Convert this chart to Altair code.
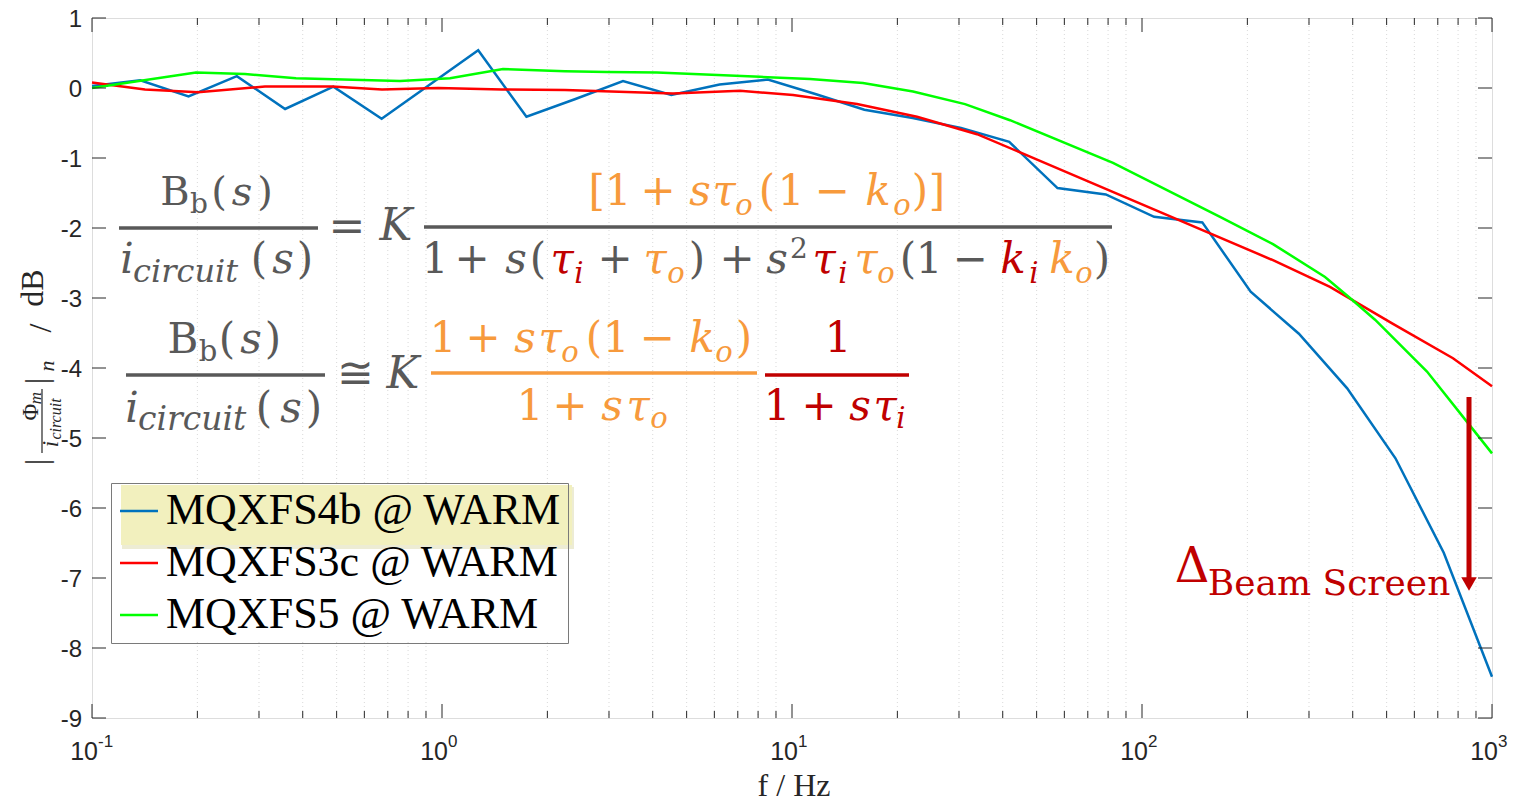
import altair as alt
import pandas as pd

# ---------------- data ----------------
SERIES = ["MQXFS4b @ WARM", "MQXFS3c @ WARM", "MQXFS5 @ WARM"]
COLORS = ["#0072BD", "#FF0000", "#00FF00"]

f_4b = [0.1, 0.1374, 0.1887, 0.2593, 0.3562, 0.4894, 0.6723, 0.9237, 1.269, 1.743,
        2.395, 3.290, 4.520, 6.210, 8.532, 11.72, 16.10, 22.12, 30.39, 41.75,
        57.36, 78.80, 108.3, 148.7, 204.4, 280.7, 385.7, 529.9, 728.0, 1000]
db_4b = [0.03, 0.11, -0.12, 0.17, -0.30, 0.02, -0.44, 0.05, 0.54, -0.41,
         -0.16, 0.10, -0.10, 0.05, 0.12, -0.09, -0.31, -0.43, -0.57, -0.77,
         -1.43, -1.52, -1.84, -1.92, -2.91, -3.51, -4.29, -5.29, -6.64, -8.41]

f_3c = [0.1, 0.1417, 0.2009, 0.3120, 0.4851, 0.6740, 0.9741, 1.484, 2.246, 4.571,
        7.101, 10.07, 15.34, 22.76, 33.78, 51.13, 236.7, 344.4, 521.3, 773.6, 1000]
db_3c = [0.08, -0.02, -0.06, 0.02, 0.02, -0.02, 0.00, -0.02, -0.03, -0.08,
         -0.04, -0.10, -0.23, -0.41, -0.66, -1.04, -2.46, -2.84, -3.37, -3.86, -4.26]

f_5 = [0.1, 0.1982, 0.2736, 0.3827, 0.7586, 1.054, 1.494, 2.246, 2.961, 4.115,
       8.10, 11.26, 15.95, 22.17, 31.21, 41.97, 82.63, 167.1, 236.7, 333.4,
       392.9, 463.2, 652.0, 848.4, 1000]
db_5 = [0.00, 0.22, 0.20, 0.14, 0.10, 0.14, 0.27, 0.24, 0.23, 0.22,
        0.16, 0.13, 0.07, -0.05, -0.23, -0.46, -1.07, -1.84, -2.23, -2.70,
        -3.00, -3.31, -4.05, -4.77, -5.22]

x_major = [0.1, 1, 10, 100, 1000]
x_exp = ["-1", "0", "1", "2", "3"]
x_minor = [0.2, 0.3, 0.4, 0.5, 0.6, 0.7, 0.8, 0.9,
           2, 3, 4, 5, 6, 7, 8, 9,
           20, 30, 40, 50, 60, 70, 80, 90,
           200, 300, 400, 500, 600, 700, 800, 900]
y_major = [-9, -8, -7, -6, -5, -4, -3, -2, -1, 0, 1]
y_labels = ["-9", "-8", "-7", "-6", "-5", "-4", "-3", "-2", "-1", "0", "1"]

# ---------------- helpers ----------------
XS = alt.Scale(type="log", domain=[0.1, 1000], nice=False)
YS = alt.Scale(domain=[-9, 1], nice=False)
W, H = 1400, 700
X0, Y0 = 92, 18


def px2f(px):
    return 10 ** ((px - X0) / 350.0 - 1)


def py2db(py):
    return (88 - py) / 70.0


def xq(field):
    return alt.X(field, type="quantitative", scale=XS, axis=None)


def yq(field):
    return alt.Y(field, type="quantitative", scale=YS, axis=None)


G = "#595959"
O = "#F79A3C"
R = "#C00000"
MATH = "DejaVu Serif"

segs = []


def s(t, cx, by, size, color, it=False, font=MATH, angle=0, base="alphabetic", align="center"):
    segs.append(dict(t=t, f=px2f(cx), db=py2db(by), size=size, color=color,
                     it=it, font=font, angle=angle, base=base, align=align))


bars = []


def bar(x1, x2, y, color):
    bars.append(dict(f1=px2f(x1), f2=px2f(x2), db=py2db(y), color=color))


# ----- equation 1 -----
s("B", 175, 205, 40, G); s("b", 199, 213, 28, G)
s("(", 219, 205, 40, G); s("s", 242, 205, 40, G, True); s(")", 265, 205, 40, G)
bar(119, 318, 228, G)
s("i", 127, 273, 42, G, True); s("circuit", 133, 282, 32, G, True, align="left")
s("(", 259, 273, 42, G); s("s", 283, 273, 42, G, True); s(")", 305, 273, 42, G)
s("=", 347, 241, 44, G)
s("K", 396, 240, 44, G, True)
# numerator
for t, cx, it in [("[1", 610, False), ("+", 658, False), ("s", 700, True),
                  ("τ", 724, True), ("(", 767, False), ("1", 791, False), ("−", 832, False),
                  ("k", 878, True), (")", 920, False), ("]", 937, False)]:
    s(t, cx, 205, 42, O, it)
s("o", 744, 215, 29, O, True); s("o", 902, 215, 29, O, True)
bar(424, 1112, 227, G)
# denominator
for t, cx, col, it in [("1", 435, G, False), ("+", 472, G, False), ("s", 516, G, True),
                       ("(", 538, G, False), ("τ", 562, R, True), ("+", 615, G, False),
                       ("τ", 655, O, True), (")", 697, G, False), ("+", 737, G, False),
                       ("s", 777, G, True), ("τ", 824, R, True), ("τ", 866, O, True),
                       ("(", 908, G, False), ("1", 929, G, False), ("−", 970, G, False),
                       ("k", 1013, R, True), ("k", 1062, O, True), (")", 1102, G, False)]:
    s(t, cx, 273, 42, col, it)
for t, cx, col in [("i", 579, R), ("o", 676, O), ("i", 843, R), ("o", 886, O),
                   ("i", 1034, R), ("o", 1084, O)]:
    s(t, cx, 283, 29, col, True)
s("2", 799, 258, 28, G)

# ----- equation 2 -----
s("B", 183, 353, 42, G); s("b", 208, 361, 29, G)
s("(", 227, 353, 42, G); s("s", 251, 353, 42, G, True); s(")", 273, 353, 42, G)
bar(126, 325, 375, G)
s("i", 132, 422, 42, G, True); s("circuit", 138, 430, 33, G, True, align="left")
s("(", 264, 422, 42, G); s("s", 291, 422, 42, G, True); s(")", 314, 422, 42, G)
s("≅", 355, 388, 44, G)
s("K", 403, 388, 44, G, True)
for t, cx, it in [("1", 443, False), ("+", 483, False), ("s", 525, True), ("τ", 550, True),
                  ("(", 594, False), ("1", 616, False), ("−", 657, False), ("k", 702, True),
                  (")", 744, False)]:
    s(t, cx, 352, 42, O, it)
s("o", 570, 362, 29, O, True); s("o", 724, 362, 29, O, True)
bar(431, 757, 373, O)
for t, cx, it in [("1", 530, False), ("+", 570, False), ("s", 612, True), ("τ", 638, True)]:
    s(t, cx, 420, 42, O, it)
s("o", 659, 428, 29, O, True)
s("1", 838, 352, 42, R)
bar(765, 909, 375, R)
for t, cx, it in [("1", 777, False), ("+", 819, False), ("s", 860, True), ("τ", 885, True)]:
    s(t, cx, 420, 42, R, it)
s("i", 901, 428, 29, R, True)

# ----- beam screen annotation -----
s("Δ", 1192, 582, 48, R)
s("Beam Screen", 1329, 595, 36, R)

# ----- y axis title (rotated) -----
YT = "Liberation Serif"
K_ = "#262626"
s("dB", 33, 288, 32, K_, font=YT, angle=270, base="middle")
s("/", 41, 328, 32, K_, font=YT, angle=270, base="middle")
s("n", 47, 366, 22, K_, it=True, font=YT, angle=270, base="middle")
s("|", 37, 381, 32, K_, font=YT, angle=270, base="middle")
s("Φ", 31, 412, 23, K_, font=YT, angle=270, base="middle")
s("m", 36, 398, 17, K_, it=True, font=YT, angle=270, base="middle")
s("i", 51, 444, 23, K_, it=True, font=YT, angle=270, base="middle")
s("circuit", 56, 419, 16, K_, it=True, font=YT, angle=270, base="middle")
s("|", 37, 462, 32, K_, font=YT, angle=270, base="middle")

# ---------------- layers ----------------
df = pd.concat([
    pd.DataFrame({"f": f_4b, "db": db_4b, "series": SERIES[0]}),
    pd.DataFrame({"f": f_3c, "db": db_3c, "series": SERIES[1]}),
    pd.DataFrame({"f": f_5, "db": db_5, "series": SERIES[2]}),
], ignore_index=True)

minor_grid = alt.Chart(pd.DataFrame({"v": x_minor})).mark_rule(
    color="#d9d9d9", strokeWidth=1, strokeDash=[1, 3]
).encode(x=xq("v"))

lines = alt.Chart(df).mark_line(strokeWidth=2.5).encode(
    x=alt.X("f:Q", scale=XS,
            axis=alt.Axis(values=x_major, grid=True, labels=False, ticks=False, domain=False,
                          title=None, gridColor="#e3e3e3", gridWidth=1.3)),
    y=alt.Y("db:Q", scale=YS,
            axis=alt.Axis(values=y_major, grid=True, labels=False, ticks=False, domain=False,
                          title=None, gridColor="#e3e3e3", gridWidth=1.3)),
    color=alt.Color("series:N", scale=alt.Scale(domain=SERIES, range=COLORS),
                    legend=alt.Legend(title=None, orient="none", legendX=19, legendY=465,
                                      direction="vertical", symbolType="stroke",
                                      symbolSize=1444, symbolStrokeWidth=2.5,
                                      labelFont="Liberation Serif", labelFontSize=44,
                                      labelColor="black", labelLimit=800, labelOffset=5,
                                      padding=6, rowPadding=8, strokeColor="#7a7a7a")),
    order=alt.Order("f:Q"),
)

# legend background box + highlight (under the legend itself)
one = pd.DataFrame({"a": [0]})
legend_bg = alt.Chart(one).mark_rect(fill="white").encode(
    x=alt.value(19), x2=alt.value(483), y=alt.value(465), y2=alt.value(624))
legend_shadow = alt.Chart(one).mark_rect(fill="#e9e7c9", opacity=0.8).encode(
    x=alt.value(30), x2=alt.value(482), y=alt.value(469), y2=alt.value(531))
legend_hl = alt.Chart(one).mark_rect(fill="#f2f0be").encode(
    x=alt.value(29), x2=alt.value(480), y=alt.value(467), y2=alt.value(527))

# inward ticks (box style)
tk = "#262626"
xt_major = pd.DataFrame({"v": x_major})
xt_minor = pd.DataFrame({"v": x_minor})
yt_major = pd.DataFrame({"v": y_major, "l": y_labels})
ticks = [
    alt.Chart(xt_major).mark_rule(color=tk).encode(x=xq("v"), y=alt.value(H), y2=alt.value(H - 14)),
    alt.Chart(xt_major).mark_rule(color=tk).encode(x=xq("v"), y=alt.value(0), y2=alt.value(14)),
    alt.Chart(xt_minor).mark_rule(color=tk).encode(x=xq("v"), y=alt.value(H), y2=alt.value(H - 7)),
    alt.Chart(xt_minor).mark_rule(color=tk).encode(x=xq("v"), y=alt.value(0), y2=alt.value(7)),
    alt.Chart(yt_major).mark_rule(color=tk).encode(y=yq("v"), x=alt.value(0), x2=alt.value(14)),
    alt.Chart(yt_major).mark_rule(color=tk).encode(y=yq("v"), x=alt.value(W), x2=alt.value(W - 14)),
]

# y tick labels
ylab = alt.Chart(yt_major).mark_text(font="Liberation Sans", fontSize=24, align="right",
                                     baseline="middle", dy=2, color="#262626").encode(
    y=yq("v"), x=alt.value(-10), text="l:N")

# x tick labels: 10 with superscript exponent
xl = pd.DataFrame({"v": x_major, "e": x_exp, "b": ["10"] * 5})
xlab10 = alt.Chart(xl).mark_text(font="Liberation Sans", fontSize=25, align="right",
                                 baseline="alphabetic", dx=6, color="#262626").encode(
    x=xq("v"), y=alt.value(742), text="b:N")
xlabexp = alt.Chart(xl).mark_text(font="Liberation Sans", fontSize=17, align="left",
                                  baseline="alphabetic", dx=6, color="#262626").encode(
    x=xq("v"), y=alt.value(729), text="e:N")
xtitle = alt.Chart(pd.DataFrame({"t": ["f / Hz"]})).mark_text(
    font="Liberation Serif", fontSize=32, align="center", baseline="alphabetic", color="#262626"
).encode(x=alt.value(702), y=alt.value(778), text="t:N")

# equation / annotation text layers
sdf = pd.DataFrame(segs)
text_layers = []
for (color, it, font, angle, base, align), grp in sdf.groupby(
        ["color", "it", "font", "angle", "base", "align"]):
    text_layers.append(
        alt.Chart(grp.reset_index(drop=True)).mark_text(
            font=font, fontStyle="italic" if it else "normal", color=color,
            align=align, baseline=base, angle=angle
        ).encode(x=xq("f"), y=yq("db"), text="t:N", size=alt.Size("size:Q", scale=None))
    )

bdf = pd.DataFrame(bars)
bar_layers = []
for color, grp in bdf.groupby("color"):
    bar_layers.append(
        alt.Chart(grp.reset_index(drop=True)).mark_rule(color=color, strokeWidth=3.5).encode(
            x=xq("f1"), x2="f2:Q", y=yq("db"))
    )

# fraction bar of the y title (vertical)
ytbar = alt.Chart(pd.DataFrame({"f": [px2f(42)], "d1": [py2db(389)], "d2": [py2db(453)]})).mark_rule(
    color=K_, strokeWidth=1.2).encode(x=xq("f"), y=yq("d1"), y2="d2:Q")

# beam screen arrow
arrow = alt.Chart(pd.DataFrame({"f": [px2f(1469)], "d1": [py2db(397)], "d2": [py2db(580)]})).mark_rule(
    color=R, strokeWidth=5).encode(x=xq("f"), y=yq("d1"), y2="d2:Q")
arrow_head = alt.Chart(pd.DataFrame({"f": [px2f(1469)], "d": [py2db(584)]})).mark_point(
    shape="triangle-down", filled=True, size=240, color=R, opacity=1).encode(x=xq("f"), y=yq("d"))

chart = alt.layer(
    minor_grid, lines, legend_bg, legend_shadow, legend_hl, *ticks, ylab,
    xlab10, xlabexp, xtitle, *bar_layers, ytbar, *text_layers, arrow, arrow_head
).properties(
    width=W, height=H,
    padding={"left": X0, "top": Y0, "right": 1514 - X0 - W, "bottom": 803 - Y0 - H},
    autosize=alt.AutoSizeParams(type="none"),
).configure_view(stroke="#262626", strokeWidth=1).configure(background="white")

chart.save("out.html", embed_options={"renderer": "svg", "actions": False})
